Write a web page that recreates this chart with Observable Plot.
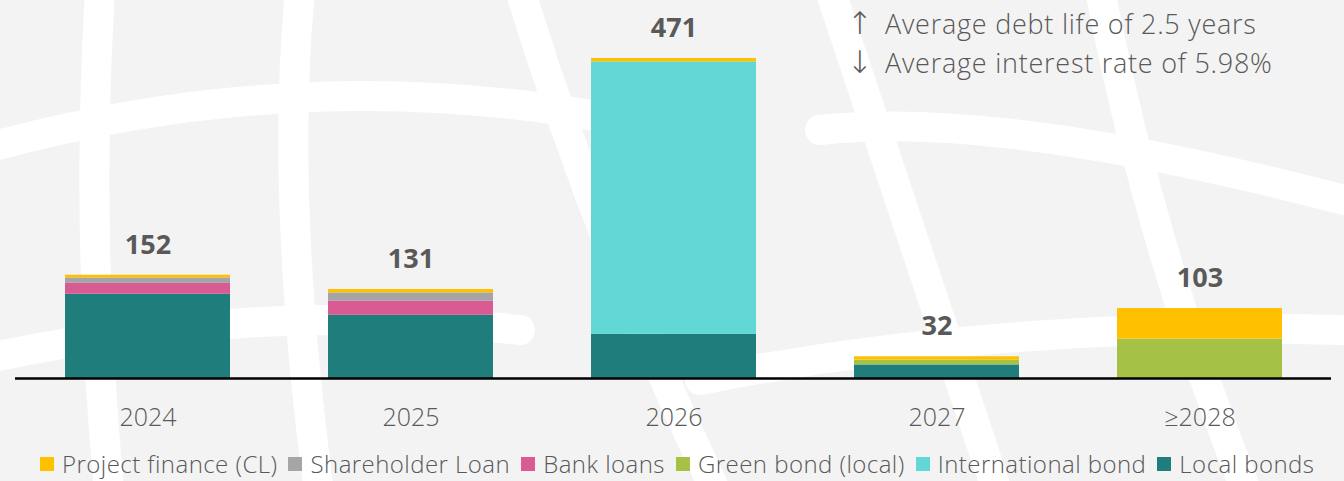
<!DOCTYPE html>
<html><head><meta charset="utf-8">
<script src="https://cdn.jsdelivr.net/npm/d3@7"></script>
<script src="https://cdn.jsdelivr.net/npm/@observablehq/plot@0.6"></script>
<style>
body{margin:0;background:#fff;}
#wrap{position:relative;width:1344px;height:481px;overflow:hidden;font-family:"Open Sans",sans-serif;}
#bg{position:absolute;left:0;top:0;}
#chart{position:absolute;left:0;top:0;}
#note{position:absolute;left:847px;top:4px;color:#595959;font-size:27px;font-weight:300;line-height:39px;white-space:nowrap;letter-spacing:0.75px;}
#note .ar{display:inline-block;width:38px;font-family:"DejaVu Sans",sans-serif;font-weight:200;font-size:31px;line-height:30px;letter-spacing:0;}
#legend{position:absolute;left:40px;top:450px;height:28px;display:flex;align-items:center;color:#595959;font-size:24px;line-height:28px;font-weight:300;white-space:nowrap;letter-spacing:0.45px;}
#legend .item{display:flex;align-items:center;margin-right:11px;}
#legend .sw{width:14px;height:14px;margin-right:8px;}
</style></head>
<body>
<div id="wrap">
<svg id="bg" width="1344" height="481">
<rect width="1344" height="481" fill="#f3f3f3"/>
<g fill="none" stroke="#fff" stroke-width="30" stroke-linecap="round">
<path d="M -20 150 Q 300 60 620 120"/>
<path d="M -20 360 Q 250 300 520 330"/>
<path d="M 100 -10 Q 85 240 110 500"/>
<path d="M 300 -10 Q 280 200 320 500"/>
<path d="M 520 -10 Q 600 250 720 500"/>
<path d="M 830 -10 Q 900 200 1000 500"/>
<path d="M 1100 -10 Q 1150 250 1250 500"/>
<path d="M 820 130 Q 1000 110 1344 200"/>
<path d="M 700 380 Q 1000 320 1344 330"/>
</g>
</svg>
<div id="chart"></div>
<div id="note"><div><span class="ar">↑</span>Average debt life of 2.5 years</div><div><span class="ar">↓</span>Average interest rate of 5.98%</div></div>
<div id="legend"></div>
</div>
<script>
const categories = ["2024", "2025", "2026", "2027", "≥2028"];
const series = ["Local bonds", "International bond", "Green bond (local)", "Bank loans", "Shareholder Loan", "Project finance (CL)"];
const colors = ["#1F7E7C", "#61D8D6", "#A5C246", "#D95B93", "#A5A5A5", "#FFC000"];
const localBonds = [124, 93, 65, 20, 0];
const internationalBond = [0, 0, 401, 0, 0];
const greenBond = [0, 0, 0, 7, 58];
const bankLoans = [16, 21, 0, 0, 0];
const shareholderLoan = [8, 12, 0, 0, 0];
const projectFinance = [4, 5, 5, 5, 45];
const totals = [152, 131, 471, 32, 103];

const values = [localBonds, internationalBond, greenBond, bankLoans, shareholderLoan, projectFinance];
const data = [];
series.forEach((s, i) => categories.forEach((c, j) => {
  if (values[i][j] > 0) data.push({category: c, series: s, value: values[i][j]});
}));
const labels = categories.map((c, i) => ({category: c, total: totals[i]}));

const chart = Plot.plot({
  width: 1344,
  height: 445,
  marginLeft: 15,
  marginRight: 13,
  marginTop: 58,
  marginBottom: 67,
  style: {background: "transparent", fontFamily: "Open Sans, sans-serif"},
  x: {domain: categories, paddingInner: 0.373, paddingOuter: 0.1865, label: null},
  y: {domain: [0, 471], axis: null},
  color: {domain: series, range: colors},
  marks: [
    Plot.barY(data, {x: "category", y: "value", fill: "series", order: series}),
    Plot.ruleY([0], {stroke: "#000", strokeWidth: 2.5}),
    Plot.text(labels, {x: "category", y: "total", text: d => String(d.total), dy: -30, fontSize: 27, fontWeight: 700, fill: "#595959"}),
    Plot.axisX({tickSize: 0, tickPadding: 30, fontSize: 25, fontWeight: 300, fill: "#595959", label: null})
  ]
});
document.getElementById("chart").appendChild(chart);

const legend = document.getElementById("legend");
series.slice().reverse().forEach(s => {
  const item = document.createElement("div");
  item.className = "item";
  const sw = document.createElement("span");
  sw.className = "sw";
  sw.style.background = colors[series.indexOf(s)];
  const tx = document.createElement("span");
  tx.textContent = s;
  item.appendChild(sw);
  item.appendChild(tx);
  legend.appendChild(item);
});
</script>
</body></html>
